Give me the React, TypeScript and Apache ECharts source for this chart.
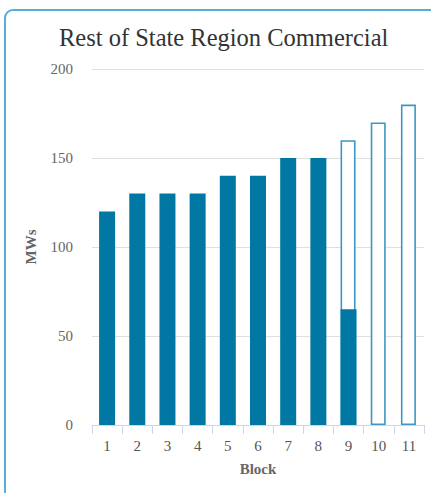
import React, { useEffect, useRef } from "react";
import * as echarts from "echarts";

const categories = ["1", "2", "3", "4", "5", "6", "7", "8", "9", "10", "11"];
const filledValues = [120, 130, 130, 130, 140, 140, 150, 150, 65, null, null];
const outlineValues = [null, null, null, null, null, null, null, null, 160, 170, 180];
const yTicks = { min: 0, max: 200, interval: 50 };

export default function App() {
  const ref = useRef<HTMLDivElement>(null);
  useEffect(() => {
    if (!ref.current) return;
    const chart = echarts.init(ref.current, undefined, { renderer: "svg" });
    const serif = "'Liberation Serif', 'Times New Roman', serif";
    chart.setOption({
      animation: false,
      backgroundColor: "#fff",
      title: {
        text: "Rest of State Region Commercial",
        left: 54,
        top: 20,
        textStyle: { fontFamily: serif, fontSize: 24.5, fontWeight: "normal", color: "#333" },
      },
      graphic: [
        {
          type: "rect",
          shape: { x: 5, y: 10, width: 450, height: 492, r: 8 },
          style: { fill: "none", stroke: "#5aaed2", lineWidth: 2 },
          z: 100,
        },
      ],
      grid: { left: 92, right: 7, top: 69, bottom: 68 },
      xAxis: {
        type: "category",
        data: categories,
        name: "Block",
        nameLocation: "middle",
        nameGap: 36,
        nameTextStyle: { fontFamily: serif, fontSize: 15, fontWeight: "bold", color: "#666" },
        axisLine: { lineStyle: { color: "#ccd6eb" } },
        axisTick: { show: true, alignWithLabel: false, length: 9, lineStyle: { color: "#ccd6eb" } },
        axisLabel: { fontFamily: serif, fontSize: 15, color: "#555", margin: 13 },
      },
      yAxis: {
        type: "value",
        min: yTicks.min,
        max: yTicks.max,
        interval: yTicks.interval,
        name: "MWs",
        nameLocation: "middle",
        nameGap: 54,
        nameRotate: 90,
        nameTextStyle: { fontFamily: serif, fontSize: 15, fontWeight: "bold", color: "#666" },
        axisLine: { show: false },
        axisTick: { show: false },
        axisLabel: { fontFamily: serif, fontSize: 15, color: "#666", margin: 19 },
        splitLine: { lineStyle: { color: "#e0e0e0" } },
      },
      series: [
        {
          type: "bar",
          data: outlineValues,
          barWidth: 15,
          barGap: "-100%",
          itemStyle: { color: "#fff", borderColor: "#3d97c4", borderWidth: 1.6 },
          z: 2,
        },
        {
          type: "bar",
          data: filledValues,
          barWidth: 16,
          barGap: "-100%",
          itemStyle: { color: "#0078a3" },
          z: 3,
        },
      ],
    });
    return () => chart.dispose();
  }, []);
  return (
    <div
      ref={ref}
      style={{ position: "fixed", left: 0, top: 0, width: 431, height: 493 }}
    />
  );
}
